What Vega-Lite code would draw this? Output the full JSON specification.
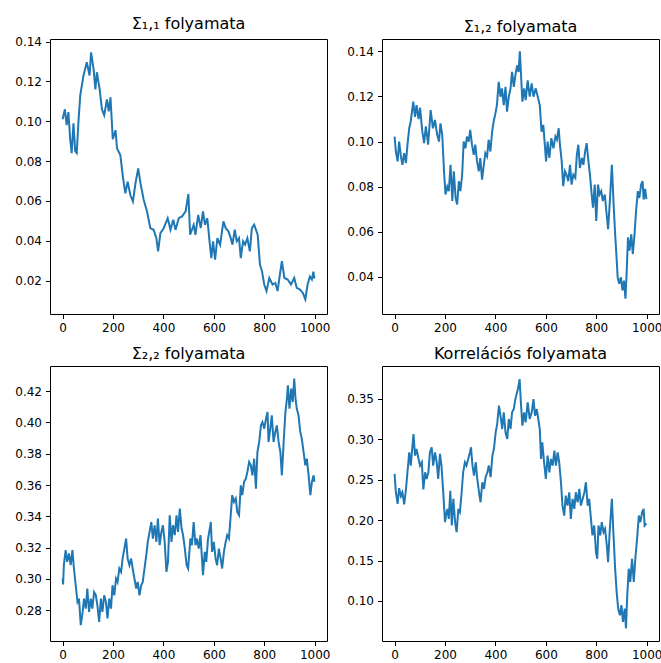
{
"$schema": "https://vega.github.io/schema/vega-lite/v6.json",
"background": "white",
"padding": {"left": 14, "top": 15, "right": 0, "bottom": 0},
"config": {
  "view": {"stroke": "black", "strokeWidth": 1},
  "axis": {"grid": false, "domain": false, "tickColor": "black", "tickSize": 4.5, "tickWidth": 1, "labelColor": "black", "labelFont": "DejaVu Sans", "labelFontSize": 12, "labelPadding": 4, "labelOverlap": false, "labelFlush": false, "title": null},
  "title": {"font": "DejaVu Sans", "fontSize": 16, "fontWeight": "normal", "color": "black", "offset": 4},
  "line": {"color": "#1f77b4", "strokeWidth": 2}
},
"datasets": {
"s11": [{"x":0,"y":0.101},{"x":9,"y":0.106},{"x":16,"y":0.098},{"x":23,"y":0.1046},{"x":30,"y":0.091},{"x":36,"y":0.084},{"x":43,"y":0.099},{"x":50,"y":0.085},{"x":56,"y":0.084},{"x":63,"y":0.1},{"x":70,"y":0.113},{"x":83,"y":0.123},{"x":96,"y":0.1296},{"x":107,"y":0.123},{"x":113,"y":0.1346},{"x":123,"y":0.126},{"x":130,"y":0.116},{"x":136,"y":0.1246},{"x":147,"y":0.116},{"x":156,"y":0.106},{"x":165,"y":0.103},{"x":176,"y":0.111},{"x":183,"y":0.105},{"x":190,"y":0.112},{"x":199,"y":0.091},{"x":210,"y":0.0955},{"x":216,"y":0.0863},{"x":229,"y":0.083},{"x":240,"y":0.0713},{"x":249,"y":0.0638},{"x":258,"y":0.0697},{"x":269,"y":0.0628},{"x":279,"y":0.0597},{"x":289,"y":0.0688},{"x":300,"y":0.0763},{"x":309,"y":0.0688},{"x":322,"y":0.0605},{"x":335,"y":0.0547},{"x":348,"y":0.0463},{"x":361,"y":0.0455},{"x":372,"y":0.0413},{"x":379,"y":0.0347},{"x":388,"y":0.0438},{"x":401,"y":0.0463},{"x":417,"y":0.0513},{"x":428,"y":0.0455},{"x":439,"y":0.0505},{"x":448,"y":0.0455},{"x":461,"y":0.0513},{"x":474,"y":0.0522},{"x":488,"y":0.0547},{"x":499,"y":0.0635},{"x":506,"y":0.043},{"x":520,"y":0.048},{"x":527,"y":0.043},{"x":538,"y":0.053},{"x":548,"y":0.0463},{"x":557,"y":0.0547},{"x":565,"y":0.048},{"x":574,"y":0.0513},{"x":583,"y":0.0397},{"x":590,"y":0.0313},{"x":597,"y":0.0397},{"x":605,"y":0.0305},{"x":614,"y":0.0413},{"x":625,"y":0.038},{"x":638,"y":0.0497},{"x":647,"y":0.0463},{"x":658,"y":0.0447},{"x":667,"y":0.0413},{"x":674,"y":0.038},{"x":683,"y":0.0455},{"x":691,"y":0.0397},{"x":700,"y":0.0413},{"x":707,"y":0.0313},{"x":716,"y":0.0397},{"x":724,"y":0.038},{"x":733,"y":0.0413},{"x":743,"y":0.0347},{"x":751,"y":0.0463},{"x":760,"y":0.048},{"x":774,"y":0.043},{"x":783,"y":0.028},{"x":791,"y":0.0247},{"x":800,"y":0.018},{"x":809,"y":0.0147},{"x":820,"y":0.0213},{"x":833,"y":0.018},{"x":844,"y":0.0188},{"x":853,"y":0.0147},{"x":862,"y":0.023},{"x":870,"y":0.0297},{"x":880,"y":0.0213},{"x":893,"y":0.0205},{"x":906,"y":0.018},{"x":919,"y":0.0213},{"x":929,"y":0.0163},{"x":942,"y":0.0155},{"x":953,"y":0.0138},{"x":963,"y":0.0105},{"x":972,"y":0.018},{"x":981,"y":0.022},{"x":989,"y":0.0205},{"x":995,"y":0.0245},{"x":999,"y":0.021}],
"s12": [{"x":0,"y":0.1022},{"x":5,"y":0.0956},{"x":12,"y":0.0912},{"x":18,"y":0.1},{"x":25,"y":0.0934},{"x":31,"y":0.0897},{"x":38,"y":0.0949},{"x":45,"y":0.0905},{"x":51,"y":0.0986},{"x":58,"y":0.1059},{"x":64,"y":0.1089},{"x":74,"y":0.1177},{"x":81,"y":0.111},{"x":87,"y":0.1162},{"x":95,"y":0.11},{"x":101,"y":0.115},{"x":110,"y":0.1044},{"x":117,"y":0.0993},{"x":124,"y":0.1067},{"x":133,"y":0.0986},{"x":143,"y":0.114},{"x":152,"y":0.1059},{"x":160,"y":0.1096},{"x":169,"y":0.103},{"x":176,"y":0.1},{"x":182,"y":0.1081},{"x":189,"y":0.103},{"x":196,"y":0.0868},{"x":202,"y":0.0765},{"x":209,"y":0.08},{"x":215,"y":0.078},{"x":222,"y":0.0897},{"x":229,"y":0.0736},{"x":235,"y":0.0868},{"x":242,"y":0.075},{"x":248,"y":0.0721},{"x":255,"y":0.0824},{"x":261,"y":0.078},{"x":268,"y":0.0853},{"x":274,"y":0.1},{"x":281,"y":0.097},{"x":287,"y":0.1022},{"x":294,"y":0.1},{"x":300,"y":0.1052},{"x":307,"y":0.0986},{"x":314,"y":0.0941},{"x":320,"y":0.0986},{"x":327,"y":0.0912},{"x":334,"y":0.0868},{"x":340,"y":0.0927},{"x":347,"y":0.0831},{"x":354,"y":0.0897},{"x":360,"y":0.0949},{"x":367,"y":0.0934},{"x":373,"y":0.1008},{"x":380,"y":0.0956},{"x":387,"y":0.1044},{"x":393,"y":0.1089},{"x":400,"y":0.1125},{"x":406,"y":0.1162},{"x":413,"y":0.1265},{"x":420,"y":0.1199},{"x":426,"y":0.1236},{"x":433,"y":0.1162},{"x":440,"y":0.1243},{"x":446,"y":0.1133},{"x":453,"y":0.1199},{"x":460,"y":0.1236},{"x":466,"y":0.1309},{"x":473,"y":0.1243},{"x":479,"y":0.1294},{"x":486,"y":0.1338},{"x":492,"y":0.1309},{"x":497,"y":0.14},{"x":501,"y":0.1309},{"x":507,"y":0.1177},{"x":514,"y":0.1236},{"x":520,"y":0.1184},{"x":528,"y":0.1272},{"x":536,"y":0.1199},{"x":544,"y":0.1258},{"x":551,"y":0.1199},{"x":560,"y":0.1236},{"x":568,"y":0.1199},{"x":576,"y":0.1162},{"x":583,"y":0.1044},{"x":590,"y":0.1074},{"x":595,"y":0.1},{"x":601,"y":0.0912},{"x":607,"y":0.1},{"x":614,"y":0.0927},{"x":622,"y":0.1015},{"x":630,"y":0.097},{"x":638,"y":0.1022},{"x":644,"y":0.1008},{"x":651,"y":0.1059},{"x":656,"y":0.0986},{"x":663,"y":0.0912},{"x":669,"y":0.0802},{"x":676,"y":0.0868},{"x":682,"y":0.0853},{"x":689,"y":0.0824},{"x":696,"y":0.0897},{"x":702,"y":0.0809},{"x":709,"y":0.0853},{"x":717,"y":0.0839},{"x":723,"y":0.0941},{"x":729,"y":0.0986},{"x":735,"y":0.0883},{"x":743,"y":0.0927},{"x":749,"y":0.0897},{"x":756,"y":0.0956},{"x":762,"y":0.0993},{"x":769,"y":0.0912},{"x":775,"y":0.0853},{"x":782,"y":0.0765},{"x":787,"y":0.0707},{"x":794,"y":0.0809},{"x":800,"y":0.0648},{"x":807,"y":0.0809},{"x":813,"y":0.0765},{"x":820,"y":0.078},{"x":826,"y":0.0736},{"x":834,"y":0.0765},{"x":840,"y":0.0692},{"x":847,"y":0.0611},{"x":854,"y":0.0736},{"x":862,"y":0.0897},{"x":869,"y":0.0721},{"x":875,"y":0.0589},{"x":879,"y":0.0516},{"x":885,"y":0.0398},{"x":891,"y":0.0369},{"x":898,"y":0.0398},{"x":904,"y":0.034},{"x":910,"y":0.0383},{"x":916,"y":0.0303},{"x":921,"y":0.0428},{"x":926,"y":0.0575},{"x":932,"y":0.0516},{"x":939,"y":0.0589},{"x":945,"y":0.0501},{"x":952,"y":0.0589},{"x":958,"y":0.0692},{"x":965,"y":0.078},{"x":971,"y":0.075},{"x":978,"y":0.0809},{"x":984,"y":0.0824},{"x":988,"y":0.0743},{"x":994,"y":0.079},{"x":999,"y":0.0745}],
"s22": [{"x":0,"y":0.3003},{"x":2,"y":0.2965},{"x":5,"y":0.3088},{"x":12,"y":0.3184},{"x":18,"y":0.3109},{"x":25,"y":0.3163},{"x":32,"y":0.3088},{"x":39,"y":0.3184},{"x":45,"y":0.3067},{"x":52,"y":0.296},{"x":59,"y":0.2854},{"x":65,"y":0.2875},{"x":72,"y":0.2705},{"x":78,"y":0.2769},{"x":85,"y":0.2875},{"x":92,"y":0.2811},{"x":98,"y":0.2939},{"x":105,"y":0.279},{"x":112,"y":0.2875},{"x":118,"y":0.2811},{"x":125,"y":0.2917},{"x":132,"y":0.2896},{"x":138,"y":0.2832},{"x":145,"y":0.2726},{"x":152,"y":0.2875},{"x":158,"y":0.279},{"x":165,"y":0.2896},{"x":172,"y":0.2854},{"x":178,"y":0.2748},{"x":185,"y":0.2875},{"x":192,"y":0.2811},{"x":198,"y":0.296},{"x":205,"y":0.2896},{"x":212,"y":0.3003},{"x":218,"y":0.2981},{"x":225,"y":0.3067},{"x":232,"y":0.3045},{"x":238,"y":0.313},{"x":245,"y":0.3194},{"x":252,"y":0.3258},{"x":258,"y":0.313},{"x":265,"y":0.3088},{"x":272,"y":0.313},{"x":278,"y":0.3067},{"x":285,"y":0.3003},{"x":292,"y":0.2939},{"x":298,"y":0.2981},{"x":305,"y":0.2896},{"x":312,"y":0.296},{"x":318,"y":0.2981},{"x":325,"y":0.3067},{"x":332,"y":0.3152},{"x":338,"y":0.3237},{"x":345,"y":0.33},{"x":352,"y":0.3364},{"x":358,"y":0.3258},{"x":365,"y":0.3343},{"x":372,"y":0.3237},{"x":378,"y":0.3386},{"x":385,"y":0.3216},{"x":392,"y":0.33},{"x":398,"y":0.3343},{"x":405,"y":0.3237},{"x":412,"y":0.3045},{"x":418,"y":0.3109},{"x":425,"y":0.3407},{"x":432,"y":0.3237},{"x":438,"y":0.3343},{"x":445,"y":0.328},{"x":452,"y":0.3407},{"x":458,"y":0.33},{"x":465,"y":0.345},{"x":472,"y":0.3322},{"x":478,"y":0.328},{"x":485,"y":0.3194},{"x":492,"y":0.3088},{"x":498,"y":0.3067},{"x":507,"y":0.3258},{"x":513,"y":0.3216},{"x":520,"y":0.3364},{"x":527,"y":0.3216},{"x":533,"y":0.3258},{"x":540,"y":0.3194},{"x":547,"y":0.328},{"x":553,"y":0.313},{"x":557,"y":0.3024},{"x":564,"y":0.3173},{"x":570,"y":0.3109},{"x":577,"y":0.3258},{"x":584,"y":0.3322},{"x":588,"y":0.3364},{"x":593,"y":0.3173},{"x":600,"y":0.3237},{"x":607,"y":0.313},{"x":613,"y":0.3088},{"x":620,"y":0.3194},{"x":627,"y":0.313},{"x":633,"y":0.3067},{"x":640,"y":0.3173},{"x":647,"y":0.3237},{"x":653,"y":0.328},{"x":660,"y":0.3258},{"x":667,"y":0.3407},{"x":673,"y":0.3535},{"x":680,"y":0.3492},{"x":687,"y":0.3514},{"x":693,"y":0.3428},{"x":700,"y":0.3407},{"x":707,"y":0.3598},{"x":713,"y":0.3535},{"x":720,"y":0.362},{"x":727,"y":0.3641},{"x":733,"y":0.3683},{"x":740,"y":0.3747},{"x":747,"y":0.3726},{"x":753,"y":0.3662},{"x":760,"y":0.3768},{"x":767,"y":0.3577},{"x":773,"y":0.3811},{"x":780,"y":0.3875},{"x":787,"y":0.3981},{"x":793,"y":0.4002},{"x":800,"y":0.396},{"x":807,"y":0.4024},{"x":813,"y":0.4066},{"x":817,"y":0.3875},{"x":824,"y":0.396},{"x":830,"y":0.4045},{"x":837,"y":0.3875},{"x":844,"y":0.3939},{"x":850,"y":0.3981},{"x":857,"y":0.3875},{"x":864,"y":0.3811},{"x":870,"y":0.3662},{"x":877,"y":0.3875},{"x":884,"y":0.4066},{"x":890,"y":0.4151},{"x":894,"y":0.4236},{"x":900,"y":0.4088},{"x":907,"y":0.4215},{"x":913,"y":0.413},{"x":919,"y":0.428},{"x":924,"y":0.4151},{"x":929,"y":0.4088},{"x":936,"y":0.4045},{"x":943,"y":0.3939},{"x":949,"y":0.3896},{"x":956,"y":0.3811},{"x":963,"y":0.3726},{"x":969,"y":0.3768},{"x":976,"y":0.3662},{"x":983,"y":0.3535},{"x":989,"y":0.362},{"x":996,"y":0.3662},{"x":999,"y":0.362}],
"corr": [{"x":0,"y":0.2571},{"x":5,"y":0.2344},{"x":12,"y":0.22},{"x":18,"y":0.2395},{"x":25,"y":0.2297},{"x":31,"y":0.2344},{"x":38,"y":0.2193},{"x":45,"y":0.2378},{"x":51,"y":0.2591},{"x":58,"y":0.2838},{"x":64,"y":0.2674},{"x":71,"y":0.292},{"x":75,"y":0.3064},{"x":81,"y":0.2797},{"x":87,"y":0.2879},{"x":95,"y":0.2756},{"x":101,"y":0.2674},{"x":108,"y":0.2715},{"x":114,"y":0.2378},{"x":121,"y":0.2591},{"x":127,"y":0.2509},{"x":134,"y":0.2591},{"x":140,"y":0.2838},{"x":147,"y":0.29},{"x":153,"y":0.2674},{"x":160,"y":0.2838},{"x":167,"y":0.2715},{"x":173,"y":0.2509},{"x":180,"y":0.2818},{"x":186,"y":0.2674},{"x":193,"y":0.2344},{"x":200,"y":0.1974},{"x":206,"y":0.2097},{"x":210,"y":0.2138},{"x":215,"y":0.2015},{"x":221,"y":0.2361},{"x":227,"y":0.1933},{"x":233,"y":0.2262},{"x":240,"y":0.1974},{"x":246,"y":0.1851},{"x":253,"y":0.2138},{"x":259,"y":0.2097},{"x":266,"y":0.2344},{"x":272,"y":0.2591},{"x":279,"y":0.2715},{"x":285,"y":0.2674},{"x":292,"y":0.2756},{"x":299,"y":0.2838},{"x":303,"y":0.29},{"x":309,"y":0.2674},{"x":315,"y":0.255},{"x":322,"y":0.2715},{"x":328,"y":0.2509},{"x":335,"y":0.2344},{"x":341,"y":0.222},{"x":348,"y":0.2468},{"x":355,"y":0.2385},{"x":361,"y":0.253},{"x":368,"y":0.2591},{"x":374,"y":0.2674},{"x":381,"y":0.253},{"x":388,"y":0.2797},{"x":394,"y":0.2879},{"x":401,"y":0.3085},{"x":407,"y":0.3187},{"x":414,"y":0.3414},{"x":420,"y":0.3291},{"x":427,"y":0.3126},{"x":433,"y":0.3332},{"x":440,"y":0.3085},{"x":447,"y":0.3003},{"x":453,"y":0.325},{"x":460,"y":0.3126},{"x":466,"y":0.3332},{"x":473,"y":0.3373},{"x":479,"y":0.3496},{"x":486,"y":0.3579},{"x":492,"y":0.366},{"x":496,"y":0.3743},{"x":501,"y":0.3455},{"x":507,"y":0.3167},{"x":514,"y":0.3332},{"x":520,"y":0.3208},{"x":528,"y":0.3455},{"x":536,"y":0.325},{"x":544,"y":0.3332},{"x":551,"y":0.3496},{"x":557,"y":0.3291},{"x":564,"y":0.3373},{"x":570,"y":0.325},{"x":576,"y":0.3126},{"x":581,"y":0.2756},{"x":586,"y":0.2962},{"x":593,"y":0.2715},{"x":600,"y":0.2509},{"x":607,"y":0.2797},{"x":614,"y":0.2591},{"x":620,"y":0.2756},{"x":627,"y":0.2674},{"x":634,"y":0.2859},{"x":640,"y":0.2674},{"x":647,"y":0.2838},{"x":653,"y":0.2715},{"x":660,"y":0.2468},{"x":666,"y":0.2179},{"x":673,"y":0.2056},{"x":679,"y":0.2303},{"x":686,"y":0.2179},{"x":693,"y":0.2344},{"x":699,"y":0.2015},{"x":706,"y":0.2262},{"x":713,"y":0.2138},{"x":719,"y":0.2344},{"x":726,"y":0.222},{"x":733,"y":0.2385},{"x":739,"y":0.2179},{"x":746,"y":0.2262},{"x":753,"y":0.2344},{"x":759,"y":0.2468},{"x":766,"y":0.2179},{"x":772,"y":0.2262},{"x":779,"y":0.2015},{"x":785,"y":0.181},{"x":792,"y":0.1933},{"x":799,"y":0.1604},{"x":804,"y":0.1522},{"x":809,"y":0.1933},{"x":816,"y":0.181},{"x":822,"y":0.1974},{"x":829,"y":0.1851},{"x":835,"y":0.1892},{"x":842,"y":0.1686},{"x":847,"y":0.148},{"x":854,"y":0.1892},{"x":862,"y":0.2262},{"x":868,"y":0.1851},{"x":875,"y":0.1399},{"x":881,"y":0.111},{"x":887,"y":0.0906},{"x":894,"y":0.0823},{"x":900,"y":0.0947},{"x":906,"y":0.0741},{"x":913,"y":0.0906},{"x":918,"y":0.0659},{"x":923,"y":0.107},{"x":929,"y":0.1399},{"x":935,"y":0.1234},{"x":942,"y":0.1522},{"x":949,"y":0.1234},{"x":955,"y":0.1522},{"x":962,"y":0.1769},{"x":969,"y":0.2056},{"x":975,"y":0.1974},{"x":982,"y":0.2097},{"x":988,"y":0.2138},{"x":992,"y":0.1933},{"x":999,"y":0.196}]
},
"spacing": 11,
"vconcat": [
 {"spacing": 15, "hconcat": [
  {"title": "Σ₁,₁ folyamata", "width": 277, "height": 275, "data": {"name": "s11"}, "mark": "line",
   "encoding": {"x": {"field": "x", "type": "quantitative", "scale": {"domain": [-50, 1049], "nice": false, "zero": false}, "axis": {"values": [0,200,400,600,800,1000], "format": "d"}},
                "y": {"field": "y", "type": "quantitative", "scale": {"domain": [0.0032, 0.1413], "nice": false, "zero": false}, "axis": {"values": [0.02,0.04,0.06,0.08,0.1,0.12,0.14], "format": ".2f"}}}},
  {"title": "Σ₁,₂ folyamata", "width": 277, "height": 275, "data": {"name": "s12"}, "mark": "line",
   "encoding": {"x": {"field": "x", "type": "quantitative", "scale": {"domain": [-50, 1049], "nice": false, "zero": false}, "axis": {"values": [0,200,400,600,800,1000], "format": "d"}},
                "y": {"field": "y", "type": "quantitative", "scale": {"domain": [0.0235, 0.1455], "nice": false, "zero": false}, "axis": {"values": [0.04,0.06,0.08,0.1,0.12,0.14], "format": ".2f"}}}}
 ]},
 {"spacing": 15, "hconcat": [
  {"title": "Σ₂,₂ folyamata", "width": 277, "height": 275, "data": {"name": "s22"}, "mark": "line",
   "encoding": {"x": {"field": "x", "type": "quantitative", "scale": {"domain": [-50, 1049], "nice": false, "zero": false}, "axis": {"values": [0,200,400,600,800,1000], "format": "d"}},
                "y": {"field": "y", "type": "quantitative", "scale": {"domain": [0.2604, 0.436], "nice": false, "zero": false}, "axis": {"values": [0.28,0.3,0.32,0.34,0.36,0.38,0.4,0.42], "format": ".2f"}}}},
  {"title": "Korrelációs folyamata", "width": 277, "height": 275, "data": {"name": "corr"}, "mark": "line",
   "encoding": {"x": {"field": "x", "type": "quantitative", "scale": {"domain": [-50, 1049], "nice": false, "zero": false}, "axis": {"values": [0,200,400,600,800,1000], "format": "d"}},
                "y": {"field": "y", "type": "quantitative", "scale": {"domain": [0.0505, 0.3905], "nice": false, "zero": false}, "axis": {"values": [0.1,0.15,0.2,0.25,0.3,0.35], "format": ".2f"}}}}
 ]}
]
}
